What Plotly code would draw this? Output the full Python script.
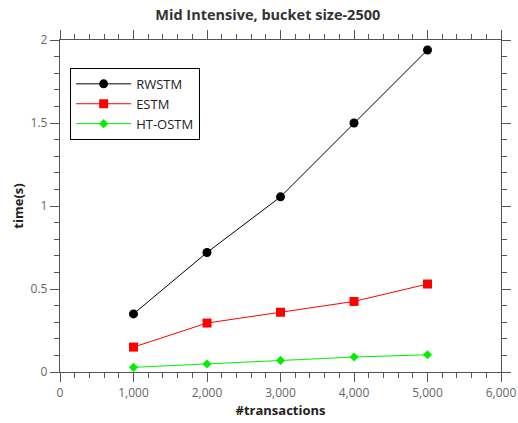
import plotly.graph_objects as go

transactions = [1000, 2000, 3000, 4000, 5000]
rwstm = [0.35, 0.72, 1.055, 1.50, 1.94]
estm = [0.15, 0.295, 0.36, 0.425, 0.53]
htostm = [0.028, 0.048, 0.07, 0.09, 0.104]

font = "Open Sans, DejaVu Sans, sans-serif"

fig = go.Figure()
fig.add_trace(go.Scatter(x=transactions, y=rwstm, name="RWSTM", mode="lines+markers",
                         line=dict(color="black", width=1),
                         marker=dict(symbol="circle", size=9, color="black")))
fig.add_trace(go.Scatter(x=transactions, y=estm, name="ESTM", mode="lines+markers",
                         line=dict(color="red", width=1),
                         marker=dict(symbol="square", size=9, color="red")))
fig.add_trace(go.Scatter(x=transactions, y=htostm, name="HT-OSTM", mode="lines+markers",
                         line=dict(color="#00ee00", width=1),
                         marker=dict(symbol="diamond", size=7, color="#00ee00")))

axis_common = dict(showline=True, linecolor="#555", linewidth=1.3, mirror="allticks",
                   ticks="outside", tickcolor="#555", ticklen=9, tickwidth=1,
                   showgrid=False, zeroline=False, automargin=False,
                   tickfont=dict(family=font, size=12, color="#666"))

fig.update_xaxes(range=[0, 6000], dtick=1000, tick0=0, tickformat=",",
                 minor=dict(dtick=200, ticks="outside", ticklen=5, tickcolor="#555", showgrid=False),
                 title=dict(text="<b>#transactions</b>", font=dict(family=font, size=13, color="#222"), standoff=3),
                 **axis_common)
fig.update_yaxes(range=[0, 2], dtick=0.5, tick0=0,
                 minor=dict(dtick=0.1, ticks="outside", ticklen=5, tickcolor="#555", showgrid=False),
                 title=dict(text="<b>time(s)</b>", font=dict(family=font, size=13, color="#222"), standoff=4),
                 **axis_common)

fig.update_layout(
    width=518, height=423,
    margin=dict(l=60, r=17, t=40, b=51),
    plot_bgcolor="white", paper_bgcolor="white",
    title=dict(text="<b>Mid Intensive, bucket size-2500</b>", x=0.517, xanchor="center",
               y=0.965, yanchor="middle", font=dict(family=font, size=14.5, color="#333")),
    legend=dict(x=0.023, y=0.916, xanchor="left", yanchor="top",
                bordercolor="black", borderwidth=1, bgcolor="white",
                font=dict(family=font, size=13, color="#222"),
                tracegroupgap=0, itemwidth=55),
    showlegend=True,
)

fig.write_html("out.html", config={"displayModeBar": False},
               post_script="document.body.style.margin='0';document.body.style.overflow='hidden';")
